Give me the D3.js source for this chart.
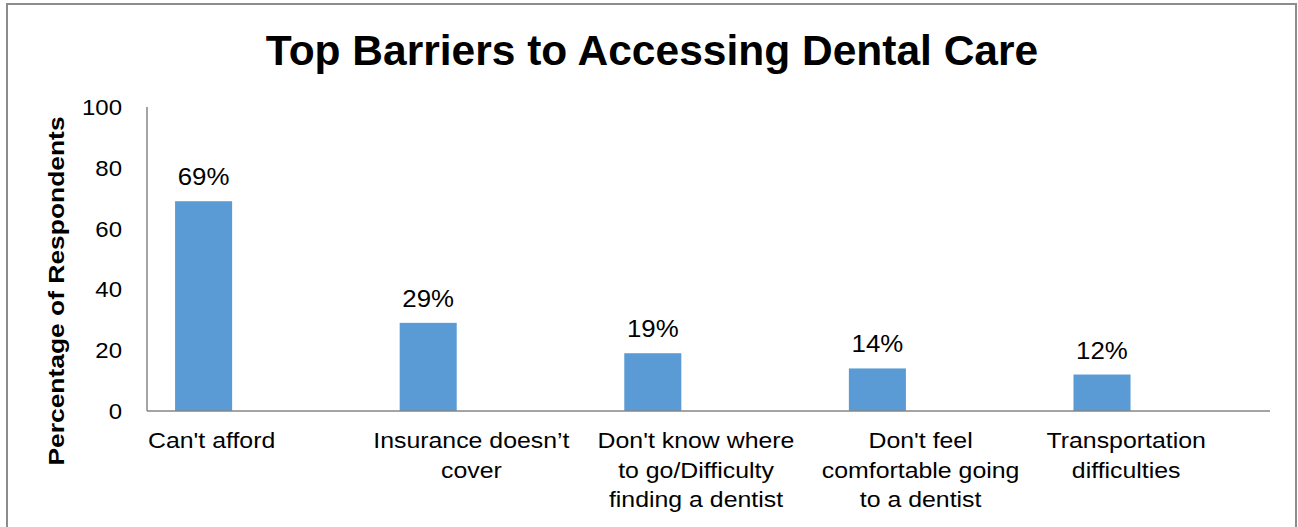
<!DOCTYPE html>
<html>
<head>
<meta charset="utf-8">
<script src="https://cdn.jsdelivr.net/npm/d3@7"></script>
<style>
  body { margin: 0; background: #fff; }
  text { font-family: Arial, "Liberation Sans", sans-serif; fill: #000; }
</style>
</head>
<body>
<div id="chart"></div>
<script>
(function() {
    var width = 1298,
        height = 527;

    // chart data
    var categories = [
        ["Can't afford"],
        ["Insurance doesn\u2019t", "cover"],
        ["Don't know where", "to go/Difficulty", "finding a dentist"],
        ["Don't feel", "comfortable going", "to a dentist"],
        ["Transportation", "difficulties"]
    ]
    var values = [69, 29, 19, 14, 12]
    var valueLabels = ["69%", "29%", "19%", "14%", "12%"]
    var yTicks = [0, 20, 40, 60, 80, 100]

    var margin = {left: 147, right: 28, top: 107, bottom: 116}

    var svg = d3.select("#chart")
        .append("svg")
        .attr("width", width)
        .attr("height", height)

    // outer frame
    svg.append("rect")
        .attr("x", 7)
        .attr("y", 4)
        .attr("width", 1289)
        .attr("height", 540)
        .attr("fill", "#fff")
        .attr("stroke", "#8c8c8c")
        .attr("stroke-width", 2)

    var x = d3.scaleBand()
        .domain(d3.range(values.length))
        .range([margin.left, width - margin.right])

    var y = d3.scaleLinear()
        .domain([0, 100])
        .range([height - margin.bottom, margin.top])

    // stretch text a bit, the source renders it wide
    function widen(sel, k) {
        sel.each(function() {
            var w = this.getComputedTextLength()
            d3.select(this)
                .attr("textLength", w * k)
                .attr("lengthAdjust", "spacingAndGlyphs")
        })
    }

    svg.append("text")
        .attr("x", 652)
        .attr("y", 65)
        .attr("text-anchor", "middle")
        .style("font-size", "42.5px")
        .style("font-weight", "bold")
        .text("Top Barriers to Accessing Dental Care")

    svg.append("text")
        .attr("transform", "translate(64,291) rotate(-90)")
        .attr("text-anchor", "middle")
        .style("font-size", "22px")
        .style("font-weight", "bold")
        .text("Percentage of Respondents")
        .call(widen, 1.2)

    // y tick labels
    svg.selectAll(".ytick")
        .data(yTicks)
        .enter().append("text")
        .attr("class", "ytick")
        .attr("x", 122)
        .attr("y", function(d) { return y(d) })
        .attr("dy", "0.36em")
        .attr("text-anchor", "end")
        .style("font-size", "22px")
        .text(function(d) { return d })
        .call(widen, 1.09)

    // bars
    svg.selectAll(".bar")
        .data(values)
        .enter().append("rect")
        .attr("class", "bar")
        .attr("x", function(d, i) { return x(i) + x.bandwidth() * 0.125 })
        .attr("width", x.bandwidth() * 0.254)
        .attr("y", function(d) { return y(d) })
        .attr("height", function(d) { return y(0) - y(d) })
        .attr("fill", "#5b9bd5")

    svg.selectAll(".vlabel")
        .data(values)
        .enter().append("text")
        .attr("class", "vlabel")
        .attr("x", function(d, i) { return x(i) + x.bandwidth() * 0.252 })
        .attr("y", function(d) { return y(d) - 16 })
        .attr("text-anchor", "middle")
        .style("font-size", "23.5px")
        .text(function(d, i) { return valueLabels[i] })
        .call(widen, 1.1)

    // axis lines
    svg.append("line")
        .attr("x1", margin.left).attr("x2", margin.left)
        .attr("y1", y(100)).attr("y2", y(0))
        .attr("stroke", "#868686")
        .attr("stroke-width", 1.5)

    svg.append("line")
        .attr("x1", margin.left).attr("x2", width - margin.right)
        .attr("y1", y(0)).attr("y2", y(0))
        .attr("stroke", "#868686")
        .attr("stroke-width", 1.5)

    // category labels, Excel shifts the first and last ones
    var nudge = [0, 0, 0, 0, -19]
    var cats = svg.selectAll(".cat")
        .data(categories)
        .enter().append("text")
        .attr("class", "cat")
        .style("font-size", "22px")
        .attr("text-anchor", function(d, i) { return i == 0 ? "start" : "middle" })

    cats.each(function(lines, i) {
        var cx = i == 0 ? margin.left + 1 : x(i) + x.bandwidth() / 2 - 12.5 + nudge[i]
        d3.select(this).selectAll("tspan")
            .data(lines)
            .enter().append("tspan")
            .attr("x", cx)
            .attr("y", function(d, j) { return y(0) + 37 + j * 29.5 })
            .text(function(d) { return d })
            .call(widen, 1.13)
    })

})();
</script>
</body>
</html>
